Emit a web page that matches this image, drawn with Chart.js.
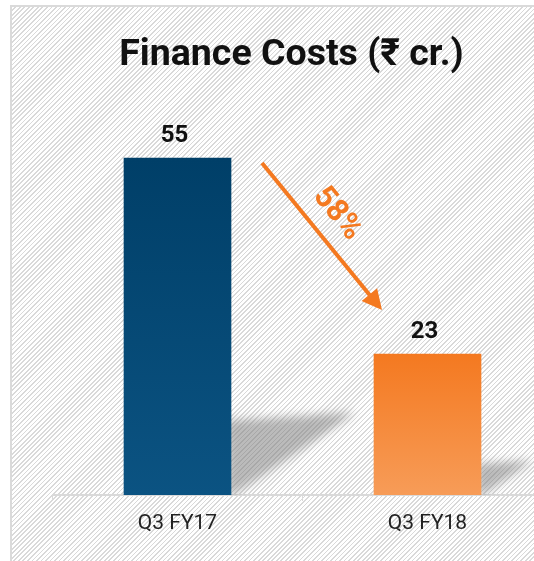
<!DOCTYPE html>
<html>
<head>
<meta charset="utf-8">
<script src="https://cdn.jsdelivr.net/npm/chart.js@4"></script>
<style>
  html, body { margin: 0; padding: 0; background: #fff; }
  body { width: 534px; height: 561px; overflow: hidden; position: relative; }
  .frame {
    position: absolute; left: 10px; top: 5px; width: 600px; height: 600px;
    border-top: 2px solid #dadada; border-left: 2px solid #dadada;
    background: repeating-linear-gradient(135deg, #ffffff 0 2px, #d9d9d9 2px 3.2px);
  }
  #chart { position: absolute; left: 0; top: 0; }
</style>
</head>
<body>
<div class="frame"></div>
<canvas id="chart" width="583" height="561"></canvas>
<script>
// chart data
var categories = ['Q3 FY17', 'Q3 FY18'];
var financeCosts = [55, 23];
var chartTitle = 'Finance Costs (₹ cr.)';

var barTop = ['#003f68', '#f47920'];
var barBottom = ['#0b5382', '#f79c58'];
var orange = '#f47920';

function barGradient(ctx) {
    var chart = ctx.chart;
    var i = ctx.dataIndex;
    if (!chart.chartArea) return barTop[i];
    var y = chart.scales.y;
    var g = chart.ctx.createLinearGradient(0, y.getPixelForValue(financeCosts[i]), 0, y.getPixelForValue(0));
    g.addColorStop(0, barTop[i]);
    g.addColorStop(1, barBottom[i]);
    return g;
}

// invisible side axes that only reserve space
function spacer(pos, w) {
    return {
        position: pos,
        display: true,
        min: 0,
        max: 67,
        grid: { display: false },
        border: { display: false },
        ticks: { display: false },
        afterFit: function (s) { s.width = w; }
    };
}

// soft cast shadow behind each bar, value labels, and the drop arrow
var decorations = {
    id: 'decorations',
    beforeDatasetsDraw: function (chart) {
        var ctx = chart.ctx;
        var area = chart.chartArea;
        var bars = chart.getDatasetMeta(0).data;
        ctx.save();
        ctx.beginPath();
        ctx.rect(area.left, area.top, chart.width, area.bottom - area.top);
        ctx.clip();
        ctx.filter = 'blur(5px)';
        ctx.fillStyle = 'rgba(120,120,120,0.5)';
        bars.forEach(function (bar) {
            var right = bar.x + bar.width / 2;
            var h = bar.base - bar.y;
            ctx.beginPath();
            ctx.moveTo(right - 4, bar.base - 0.22 * h);
            ctx.lineTo(right + 0.37 * h, bar.base - 0.245 * h);
            ctx.lineTo(right - 4, bar.base + 4);
            ctx.closePath();
            ctx.fill();
        });
        ctx.restore();
    },
    afterDatasetsDraw: function (chart) {
        var ctx = chart.ctx;
        var bars = chart.getDatasetMeta(0).data;
        ctx.save();
        ctx.fillStyle = '#111';
        ctx.font = 'bold 24px Roboto';
        ctx.textAlign = 'center';
        ctx.textBaseline = 'alphabetic';
        bars.forEach(function (bar, i) {
            ctx.fillText(String(financeCosts[i]), bar.x - 3, bar.y - 16);
        });

        // arrow from first bar to second
        var a = bars[0], b = bars[1];
        var sx = a.x + a.width / 2 + 31, sy = a.y + 5;
        var ex = b.x - b.width / 2 + 8, ey = b.y - 44;
        var ang = Math.atan2(ey - sy, ex - sx);
        var ux = Math.cos(ang), uy = Math.sin(ang);
        var headLen = 20, headW = 10;
        ctx.strokeStyle = orange;
        ctx.fillStyle = orange;
        ctx.lineWidth = 4;
        ctx.beginPath();
        ctx.moveTo(sx, sy);
        ctx.lineTo(ex - ux * headLen * 0.8, ey - uy * headLen * 0.8);
        ctx.stroke();
        ctx.beginPath();
        ctx.moveTo(ex, ey);
        ctx.lineTo(ex - ux * headLen - uy * headW, ey - uy * headLen + ux * headW);
        ctx.lineTo(ex - ux * headLen + uy * headW, ey - uy * headLen - ux * headW);
        ctx.closePath();
        ctx.fill();

        // percentage drop label along the arrow
        var drop = Math.round((financeCosts[0] - financeCosts[1]) / financeCosts[0] * 100);
        var mx = (sx + ex) / 2, my = (sy + ey) / 2;
        var nx = uy, ny = -ux;
        ctx.translate(mx + nx * 26 - ux * 8, my + ny * 26 - uy * 8);
        ctx.rotate(ang);
        ctx.font = 'bold 31px Roboto';
        ctx.textBaseline = 'middle';
        ctx.fillText(drop + '%', 0, 0);
        ctx.restore();
    }
};

var yLeft = spacer('left', 52.5);
var yRight = spacer('right', 30.5);

new Chart(document.getElementById('chart'), {
    type: 'bar',
    data: {
        labels: categories,
        datasets: [{
            data: financeCosts,
            backgroundColor: barGradient,
            borderWidth: 0,
            barThickness: 107
        }]
    },
    options: {
        responsive: false,
        animation: false,
        layout: { padding: 0 },
        scales: {
            x: {
                offset: true,
                grid: { display: true, drawOnChartArea: false, drawTicks: true, tickLength: 6, color: '#d9d9d9', offset: true },
                border: { color: '#d9d9d9', width: 2 },
                ticks: { color: '#222', padding: 10, font: { family: 'Roboto', size: 21 } },
                afterFit: function (s) { s.height = 66; }
            },
            y: yLeft,
            y2: yRight
        },
        plugins: {
            legend: { display: false },
            tooltip: { enabled: false },
            title: {
                display: true,
                text: chartTitle,
                color: '#111',
                font: { family: 'Roboto', size: 37.5, weight: 'bold' },
                padding: { top: 33, bottom: 6.5 }
            }
        }
    },
    plugins: [decorations]
});
</script>
</body>
</html>
